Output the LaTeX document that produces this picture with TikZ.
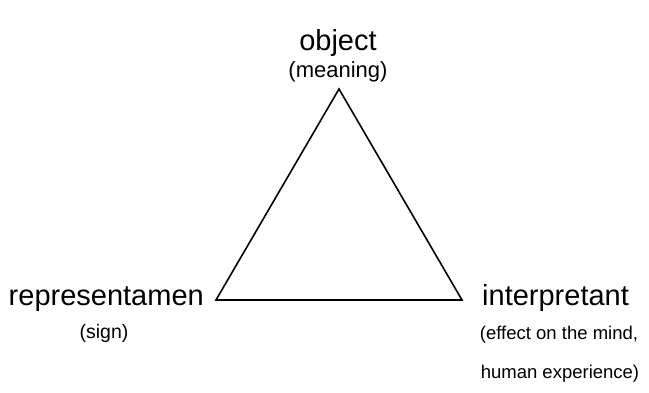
\documentclass[tikz,border=0pt]{standalone}
\usepackage{fontspec}
\setmainfont{Liberation Sans}
\begin{document}
\begin{tikzpicture}[x=1pt, y=1pt, line join=miter, line cap=butt,
  big/.style={font=\fontsize{29}{31}\selectfont, inner sep=0pt},
  small/.style={font=\fontsize{18.5}{20}\selectfont, inner sep=0pt}]
\useasboundingbox (0,0) rectangle (649,393);
\coordinate (O) at (339,304);
\coordinate (R) at (216,93);
\coordinate (I) at (462,93);
\draw[line width=1.6pt] (O) -- (R) -- (I) -- cycle;
\node[big, anchor=base] (obj) at (338,342) {object};
\node[small, font=\fontsize{22}{24}\selectfont, anchor=base] (mean) at (338,315) {(meaning)};
\node[big, anchor=base east] (rep) at (204,87) {representamen};
\node[small, font=\fontsize{19.5}{21}\selectfont, anchor=base] (sign) at (104,54) {(sign)};
\node[big, anchor=base west] (int) at (482,87) {interpretant};
\node[small, anchor=base] (eff) at (559,53) {(effect on the mind,};
\node[small, anchor=base] (hum) at (560,14) {human experience)};
\end{tikzpicture}
\end{document}
